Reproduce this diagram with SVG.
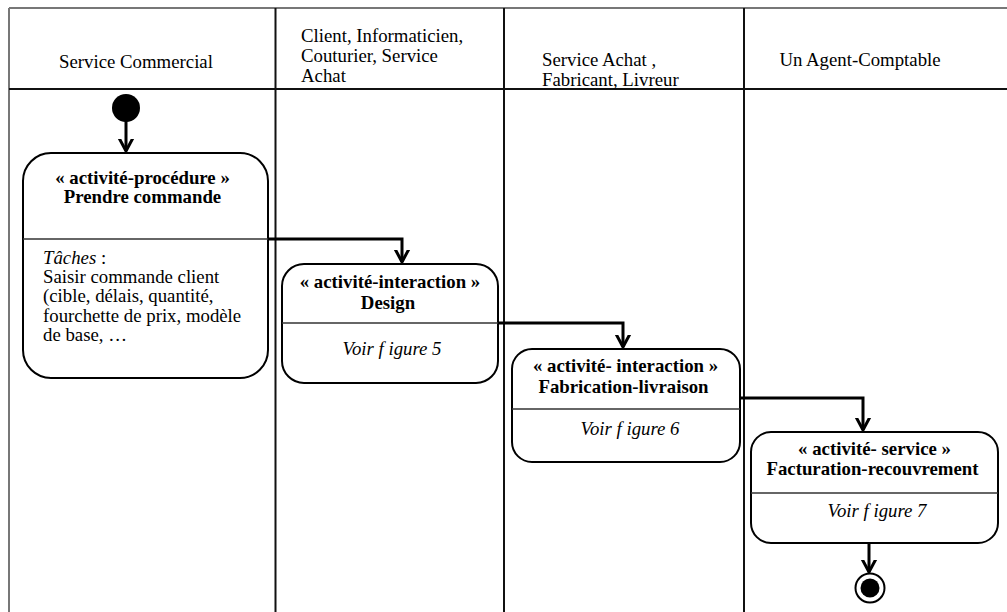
<svg xmlns="http://www.w3.org/2000/svg" width="1007" height="612" viewBox="0 0 1007 612">
  <defs>
    <style>
      text { font-family: "Liberation Serif", "Times New Roman", serif; font-size: 18.8px; fill: #000; }
      .st { font-weight: bold; text-anchor: middle; }
      .ref { font-style: italic; text-anchor: middle; }
      .it { font-style: italic; }
      .box { fill: #fff; stroke: #000; stroke-width: 2; }
      .sep { stroke: #333; stroke-width: 1.5; }
      .frame { stroke: #777; stroke-width: 2; fill: none; }
      .lane { stroke: #111; stroke-width: 2; fill: none; }
      .flow { fill: none; stroke: #000; stroke-width: 3; }
    </style>
    <marker id="arrow" markerUnits="userSpaceOnUse" markerWidth="24" markerHeight="24" viewBox="-12 -12 24 24" refX="0" refY="0" orient="auto">
      <path d="M -15 -8 L 0 0 L -15 8" fill="none" stroke="#000" stroke-width="3"/>
    </marker>
  </defs>

  <rect width="1007" height="612" fill="#fff"/>

  <!-- swimlane frame -->
  <g id="lanes">
    <line class="frame" x1="9" y1="8" x2="1007" y2="8"/>
    <line class="frame" x1="9" y1="8" x2="9" y2="612"/>
    <line class="lane" x1="9" y1="89" x2="1007" y2="89"/>
    <line class="lane" x1="275.5" y1="8" x2="275.5" y2="612"/>
    <line class="lane" x1="504" y1="8" x2="504" y2="612"/>
    <line class="lane" x1="744" y1="8" x2="744" y2="612"/>
    <text x="136" y="68" text-anchor="middle">Service Commercial</text>
    <text x="301" y="42">Client, Informaticien,</text>
    <text x="301" y="62">Couturier, Service</text>
    <text x="301" y="82">Achat</text>
    <text x="542" y="66">Service Achat ,</text>
    <text x="542" y="86">Fabricant, Livreur</text>
    <text x="860" y="66" text-anchor="middle">Un Agent-Comptable</text>
  </g>

  <!-- control flow -->
  <g id="connectors">
    <path class="flow" d="M 126 120 L 126 151" marker-end="url(#arrow)"/>
    <path class="flow" d="M 268 239 L 402 239 L 402 262" marker-end="url(#arrow)"/>
    <path class="flow" d="M 498 323 L 623 323 L 623 347" marker-end="url(#arrow)"/>
    <path class="flow" d="M 740 398 L 863 398 L 863 430" marker-end="url(#arrow)"/>
    <path class="flow" d="M 869 543 L 869 572" marker-end="url(#arrow)"/>
  </g>

  <g id="start">
    <circle cx="126" cy="108" r="14" fill="#000"/>
  </g>

  <g id="prendre-commande">
    <rect class="box" x="23" y="153" width="245" height="225" rx="28" ry="28"/>
    <line class="sep" x1="23" y1="239" x2="268" y2="239"/>
    <text class="st" x="142.5" y="184">« activité-procédure »</text>
    <text class="st" x="142.5" y="203">Prendre commande</text>
    <text x="43" y="264"><tspan class="it">Tâches</tspan> :</text>
    <text x="43" y="283.2">Saisir commande client</text>
    <text x="43" y="302.4">(cible, délais, quantité,</text>
    <text x="43" y="321.6">fourchette de prix, modèle</text>
    <text x="43" y="340.8">de base, …</text>
  </g>

  <g id="design">
    <rect class="box" x="282" y="264" width="216" height="119" rx="22" ry="22"/>
    <line class="sep" x1="282" y1="323" x2="498" y2="323"/>
    <text class="st" x="390" y="288">« activité-interaction »</text>
    <text class="st" x="388" y="309">Design</text>
    <text class="ref" x="392" y="355">Voir f igure 5</text>
  </g>

  <g id="fabrication-livraison">
    <rect class="box" x="512" y="349" width="228" height="113" rx="20" ry="20"/>
    <line class="sep" x1="512" y1="409" x2="740" y2="409"/>
    <text class="st" x="625.5" y="372">« activité- interaction »</text>
    <text class="st" x="623.5" y="393">Fabrication-livraison</text>
    <text class="ref" x="630" y="435">Voir f igure 6</text>
  </g>

  <g id="facturation-recouvrement">
    <rect class="box" x="751" y="432" width="247" height="111" rx="20" ry="20"/>
    <line class="sep" x1="751" y1="493" x2="998" y2="493"/>
    <text class="st" x="874.5" y="455">« activité- service »</text>
    <text class="st" x="872.5" y="475">Facturation-recouvrement</text>
    <text class="ref" x="877" y="517">Voir f igure 7</text>
  </g>

  <g id="end">
    <circle cx="870" cy="588" r="14.5" fill="#fff" stroke="#000" stroke-width="2"/>
    <circle cx="870" cy="588" r="9.5" fill="#000"/>
  </g>
</svg>
